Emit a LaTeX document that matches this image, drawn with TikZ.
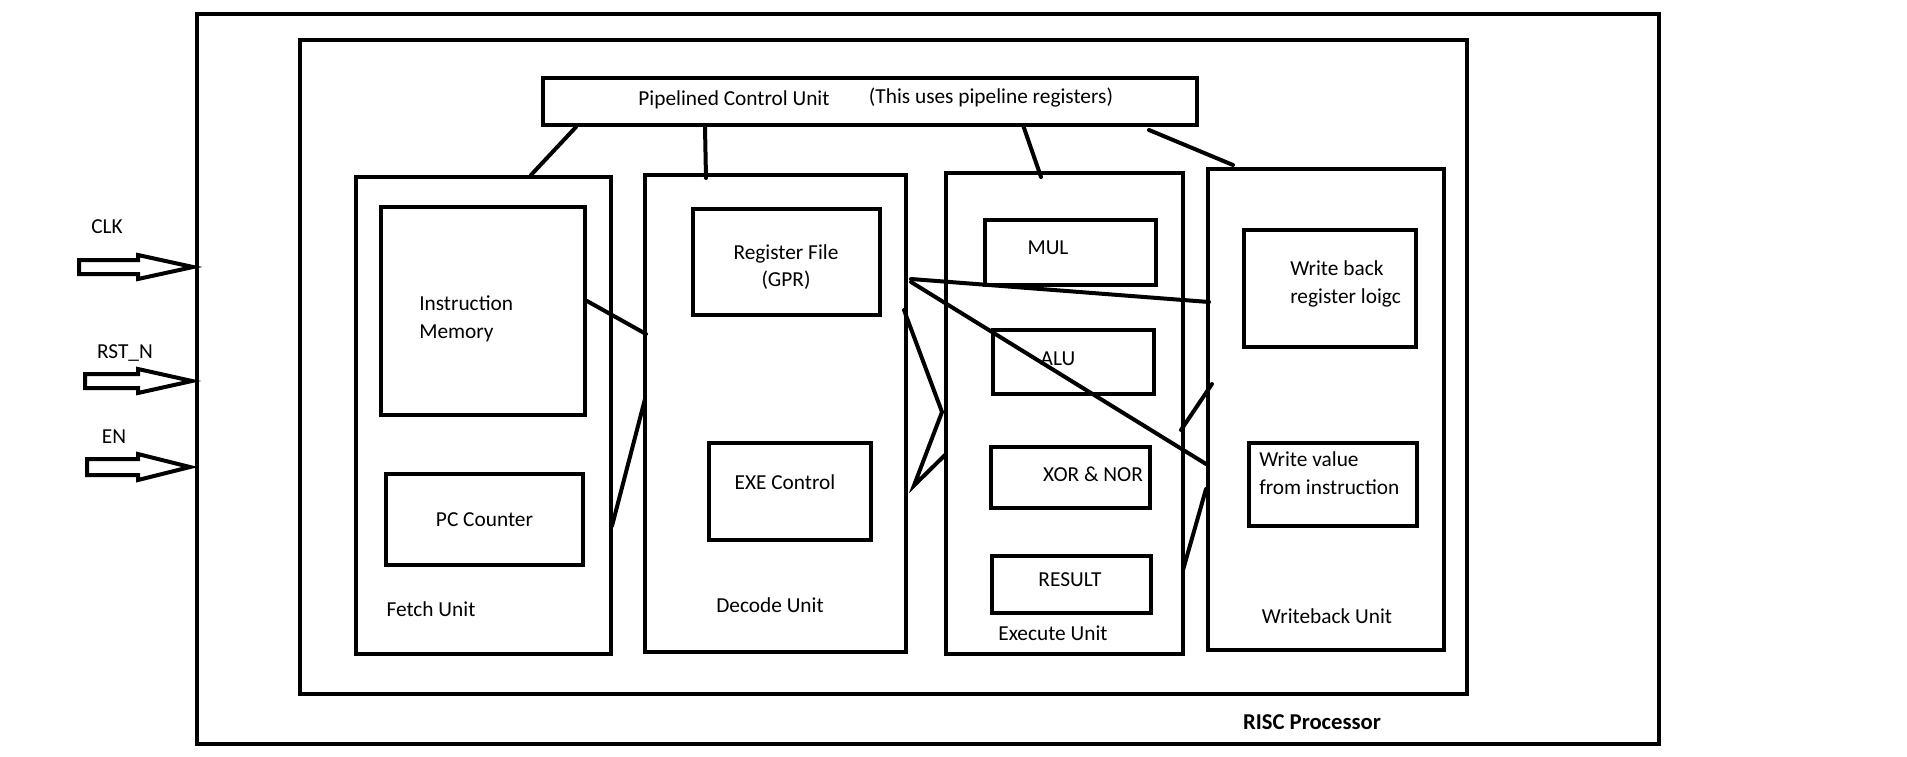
\documentclass[tikz,border=0pt]{standalone}
\usepackage{fontspec}
\setmainfont{Carlito}
\usetikzlibrary{positioning,calc}

\begin{document}
\begin{tikzpicture}[
    x=0.75pt, y=-0.75pt,
    font=\fontsize{16}{20.5}\selectfont,
    block/.style={
		rectangle,
		draw=black,
		line width=3pt,
		inner sep=0pt,
		anchor=north west
	},
	dims/.style 2 args={
		minimum width=#1*0.75pt,
		minimum height=#2*0.75pt
	},
	txt/.style={
		inner sep=0pt,
		align=left
	},
	wire/.style={
		line width=3pt,
		line cap=round
	},
	bigarrow/.style={
		line width=3pt,
		line join=miter,
		fill=white
	}
  ]
  \useasboundingbox (0,0) rectangle (1907,757);

    % We start by placing the blocks
  \node [block, dims={1462}{730}] (risc) at (195,12) {};
  \node [block, dims={1167}{654}] (core) at (298,38) {};
  \node [block, dims={654}{47}] (pcu) at (541,76) {};

  \node [block, dims={255}{477}] (fetch) at (354,175) {};
  \node [block, dims={204}{208}] (imem) at (379,205) {};
  \node [block, dims={197}{91}] (pc) at (384,472) {PC Counter};

  \node [block, dims={261}{477}] (decode) at (643,173) {};
  \node [block, dims={187}{106}] (regfile) at (691,207) {};
  \node [block, dims={162}{97}] (exectl) at (707,441) {};

  \node [block, dims={237}{481}] (execute) at (944,171) {};
  \node [block, dims={171}{65}] (mul) at (983,218) {};
  \node [block, dims={161}{64}] (alu) at (991,328) {};
  \node [block, dims={159}{61}] (xornor) at (989,445) {};
  \node [block, dims={159}{57}] (result) at (990,554) {};

  \node [block, dims={236}{481}] (wb) at (1206,167) {};
  \node [block, dims={172}{117}] (wbrl) at (1242,228) {};
  \node [block, dims={168}{83}] (wvi) at (1247,441) {};

    % texts
  \node [txt] (pcutext) at (734,100) {Pipelined Control Unit};
  \node [txt] (pcunote) at (991,98) {(This uses pipeline registers)};
  \node [txt, anchor=west] (imemtext) at (419,319) {Instruction\\Memory};
  \node [txt] (fetchlbl) at (431,609) {Fetch Unit};
  \node [txt, align=center] (regfiletext) at (786,267) {Register File\\(GPR)};
  \node [txt] (exectltext) at (785,482) {EXE Control};
  \node [txt] (decodelbl) at (770,605) {Decode Unit};
  \node [txt] (multext) at (1048,248) {MUL};
  \node [txt] (alutext) at (1058,359) {ALU};
  \node [txt] (xornortext) at (1093,474) {XOR \& NOR};
  \node [txt] (resulttext) at (1070,580) {RESULT};
  \node [txt] (exelbl) at (1053,633) {Execute Unit};
  \node [txt, anchor=west] (wbrltext) at (1290,284) {Write back\\register loigc};
  \node [txt, anchor=west] (wvitext) at (1259,473) {Write value\\from instruction};
  \node [txt] (wblbl) at (1327,616) {Writeback Unit};
  \node [txt, font=\fontsize{17}{20}\selectfont\bfseries] (risclbl) at (1312,722) {RISC Processor};

    % inputs
  \node [txt] (clklbl) at (107,227) {CLK};
  \node [txt] (rstlbl) at (125,353) {RST\_N};
  \node [txt] (enlbl) at (114,437) {EN};
  \coordinate (clktip) at ($(risc.north west)+(-2,255)$);
  \coordinate (rsttip) at ($(risc.north west)+(-3,369)$);
  \coordinate (entip) at ($(risc.north west)+(-5,455)$);
  \draw [bigarrow] (clktip) -- ++(-55,-12) -- ++(0,5) -- ++(-59,0) -- ++(0,14) -- ++(59,0) -- ++(0,5) -- cycle;
  \draw [bigarrow] (rsttip) -- ++(-54,-12) -- ++(0,5) -- ++(-53,0) -- ++(0,14) -- ++(53,0) -- ++(0,5) -- cycle;
  \draw [bigarrow] (entip) -- ++(-52,-13) -- ++(0,5) -- ++(-51,0) -- ++(0,16) -- ++(51,0) -- ++(0,5) -- cycle;

    % connections
  \draw [wire] ($(pcu.south west)+(35,0)$) -- ($(fetch.north west)+(177,0)$);
  \draw [wire] ($(pcu.south west)+(164,0)$) -- ($(decode.north west)+(63,5)$);
  \draw [wire] ($(pcu.south west)+(482,-2)$) -- ($(execute.north west)+(97,6)$);
  \draw [wire] ($(pcu.south west)+(608,3)$) -- ($(wb.north west)+(27,-2)$);
  \draw [wire] ($(imem.east)+(0,-10)$) -- ($(decode.west)+(3,-79.5)$);
  \draw [wire] ($(fetch.east)+(-1,110.5)$) -- ($(decode.west)+(2,-14.5)$);
  \draw [wire] ($(decode.east)+(3,-134.5)$) -- ($(wb.west)+(3,-107.5)$);
  \draw [wire] ($(decode.east)+(3,-131.5)$) -- ($(wb.west)+(0,54.5)$);
  \draw [wire] ($(decode.east)+(-4,-103.5)$) -- ($(execute.west)+(-2,-1.5)$)
               -- ($(decode.east)+(6,72)$) -- ($(execute.west)+(1,41.5)$);
  \draw [wire] ($(execute.east)+(-4,16.5)$) -- ($(wb.west)+(6,-25.5)$);
  \draw [wire] ($(execute.east)+(-2,156.5)$) -- ($(wb.west)+(0,79.5)$);

\end{tikzpicture}
\end{document}
